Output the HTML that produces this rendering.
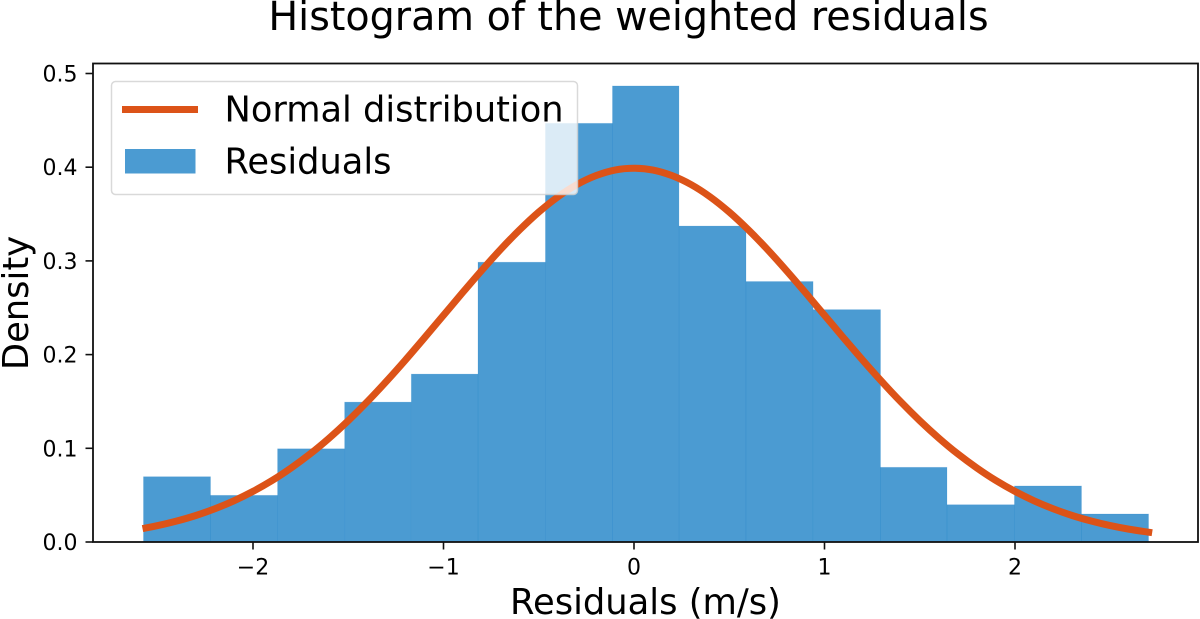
<!DOCTYPE html>
<html lang="en">
<head>
<meta charset="utf-8">
<title>Histogram of the weighted residuals</title>
<style>
html,body{margin:0;padding:0;background:#fff;width:1200px;height:619px;overflow:hidden}
svg{display:block}
text{font-family:"DejaVu Sans","Liberation Sans",sans-serif;fill:#000}
</style>
</head>
<body>
<svg id="chart" width="1200" height="619" viewBox="0 0 1200 619" xmlns="http://www.w3.org/2000/svg">
  <text x="628.5" y="30" font-size="39.65" text-anchor="middle">Histogram of the weighted residuals</text>
  <g id="bars"></g>
  <path id="curve" fill="none" stroke="#dc5318" stroke-width="7"></path>
  <g id="x-axis"></g>
  <g id="y-axis"></g>
  <rect x="93" y="63.5" width="1105" height="478.5" fill="none" stroke="#111" stroke-width="1.8"></rect>
  <text x="645.5" y="614" font-size="35.3" text-anchor="middle">Residuals (m/s)</text>
  <text transform="translate(28 303) rotate(-90)" font-size="35.3" text-anchor="middle">Density</text>
  <g>
    <rect x="111.5" y="81.5" width="466" height="113" rx="4" fill="#fff" fill-opacity="0.8" stroke="#d0d0d0" stroke-opacity="0.8" stroke-width="1.5"></rect>
    <line x1="122" y1="109.5" x2="198" y2="109.5" stroke="#dc5318" stroke-width="7"></line>
    <text x="224.5" y="121.5" font-size="35.2">Normal distribution</text>
    <rect x="125" y="149" width="70.5" height="24.5" fill="#1e82c7" fill-opacity="0.8"></rect>
    <text x="224.5" y="173.5" font-size="35.2">Residuals</text>
  </g>
</svg>
<script>
const binEdges = [-2.575, -2.223, -1.871, -1.519, -1.169, -0.819, -0.465, -0.113, 0.236, 0.588, 0.94, 1.294, 1.643, 1.997, 2.349, 2.701];
const binDensity = [0.0697, 0.0498, 0.0995, 0.1493, 0.1792, 0.2986, 0.4468, 0.4867, 0.3372, 0.278, 0.248, 0.0797, 0.0398, 0.0598, 0.0299];
const curveX = [-2.58, -2.5, -2.4, -2.3, -2.2, -2.1, -2.0, -1.9, -1.8, -1.7, -1.6, -1.5, -1.4, -1.3, -1.2, -1.1, -1.0, -0.9, -0.8, -0.7, -0.6, -0.5, -0.4, -0.3, -0.2, -0.1, 0, 0.1, 0.2, 0.3, 0.4, 0.5, 0.6, 0.7, 0.8, 0.9, 1.0, 1.1, 1.2, 1.3, 1.4, 1.5, 1.6, 1.7, 1.8, 1.9, 2.0, 2.1, 2.2, 2.3, 2.4, 2.5, 2.6, 2.72];
const curveY = [0.0143, 0.0175, 0.0224, 0.0283, 0.0355, 0.044, 0.054, 0.0656, 0.079, 0.094, 0.1109, 0.1295, 0.1497, 0.1714, 0.1942, 0.2179, 0.242, 0.2661, 0.2897, 0.3123, 0.3332, 0.3521, 0.3683, 0.3814, 0.391, 0.397, 0.3989, 0.397, 0.391, 0.3814, 0.3683, 0.3521, 0.3332, 0.3123, 0.2897, 0.2661, 0.242, 0.2179, 0.1942, 0.1714, 0.1497, 0.1295, 0.1109, 0.094, 0.079, 0.0656, 0.054, 0.044, 0.0355, 0.0283, 0.0224, 0.0175, 0.0136, 0.0099];
const xTickValues = [-2, -1, 0, 1, 2];
const xTickLabels = ["\u22122", "\u22121", "0", "1", "2"];
const yTickValues = [0, 0.1, 0.2, 0.3, 0.4, 0.5];
const yTickLabels = ["0.0", "0.1", "0.2", "0.3", "0.4", "0.5"];

const NS = "http://www.w3.org/2000/svg";
function xScale(v) { return 634 + v * 190.5; }
function yScale(v) { return 542 - v * 937; }

const barsGroup = document.getElementById("bars");
binDensity.forEach(function (d, i) {
  const r = document.createElementNS(NS, "rect");
  
  
  r.setAttribute("x", xScale(binEdges[i]));
  r.setAttribute("y", yScale(d));
  r.setAttribute("width", xScale(binEdges[i + 1]) - xScale(binEdges[i]));
  r.setAttribute("height", yScale(0) - yScale(d));
  r.setAttribute("fill", "#1e82c7");
  r.setAttribute("fill-opacity", "0.8");
  r.setAttribute("stroke", "#1e82c7");
  r.setAttribute("stroke-opacity", "0.18");
  r.setAttribute("stroke-width", "0.8");
  barsGroup.appendChild(r);
});

const pts = curveX.map(function (x, i) { return [xScale(x), yScale(curveY[i])]; });
let d = "M" + pts[0][0] + " " + pts[0][1];
for (let i = 0; i < pts.length - 1; i++) {
  const p0 = pts[Math.max(i - 1, 0)], p1 = pts[i], p2 = pts[i + 1], p3 = pts[Math.min(i + 2, pts.length - 1)];
  d += " C" + (p1[0] + (p2[0] - p0[0]) / 6) + " " + (p1[1] + (p2[1] - p0[1]) / 6) + " " +
       (p2[0] - (p3[0] - p1[0]) / 6) + " " + (p2[1] - (p3[1] - p1[1]) / 6) + " " + p2[0] + " " + p2[1];
}
document.getElementById("curve").setAttribute("d", d);

const xAxis = document.getElementById("x-axis");
xTickValues.forEach(function (v, i) {
  const t = document.createElementNS(NS, "line");
  
  
  t.setAttribute("x1", xScale(v));
  t.setAttribute("x2", xScale(v));
  t.setAttribute("y1", 542);
  t.setAttribute("y2", 549.5);
  t.setAttribute("stroke", "#111");
  t.setAttribute("stroke-width", "1.6");
  xAxis.appendChild(t);
  const l = document.createElementNS(NS, "text");
  
  
  l.setAttribute("x", xScale(v));
  l.setAttribute("y", 574.5);
  l.setAttribute("font-size", "22");
  l.setAttribute("text-anchor", "middle");
  l.textContent = xTickLabels[i];
  xAxis.appendChild(l);
});

const yAxis = document.getElementById("y-axis");
yTickValues.forEach(function (v, i) {
  const t = document.createElementNS(NS, "line");
  
  
  t.setAttribute("x1", 85.5);
  t.setAttribute("x2", 93);
  t.setAttribute("y1", yScale(v));
  t.setAttribute("y2", yScale(v));
  t.setAttribute("stroke", "#111");
  t.setAttribute("stroke-width", "1.6");
  yAxis.appendChild(t);
  const l = document.createElementNS(NS, "text");
  
  
  l.setAttribute("x", 77.5);
  l.setAttribute("y", yScale(v) + 8);
  l.setAttribute("font-size", "22");
  l.setAttribute("text-anchor", "end");
  l.textContent = yTickLabels[i];
  yAxis.appendChild(l);
});
</script>
</body>
</html>
